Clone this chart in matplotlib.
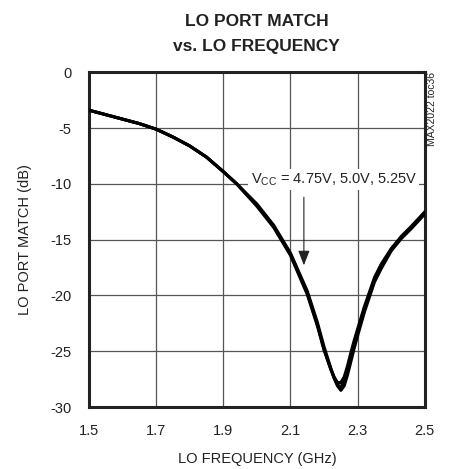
import matplotlib
matplotlib.use("Agg")
import matplotlib.pyplot as plt

plt.rcParams['font.family'] = ['Liberation Sans', 'DejaVu Sans']
plt.rcParams['mathtext.fontset'] = 'custom'
plt.rcParams['mathtext.rm'] = 'Liberation Sans'

# LO frequency (GHz)
freq = [1.50, 1.55, 1.60, 1.65, 1.70, 1.75, 1.80, 1.85, 1.90, 1.94, 2.00, 2.05,
        2.10, 2.15, 2.18, 2.20, 2.22, 2.23, 2.24, 2.25, 2.26, 2.27, 2.28, 2.29,
        2.30, 2.32, 2.35, 2.37, 2.40, 2.43, 2.46, 2.50]

# LO port match (dB) for each supply voltage
match_475 = [-3.4, -3.8, -4.2, -4.6, -5.1, -5.8, -6.6, -7.6, -8.9, -10.0, -11.8, -13.7,
             -16.2, -19.6, -22.4, -24.6, -26.5, -27.4, -28.1, -28.5, -28.1, -27.1, -25.9, -24.7,
             -23.6, -21.5, -18.8, -17.6, -16.0, -14.9, -14.0, -12.7]
match_500 = [-3.4, -3.8, -4.2, -4.6, -5.1, -5.8, -6.6, -7.6, -8.9, -10.0, -11.9, -13.8,
             -16.3, -19.8, -22.6, -24.8, -26.6, -27.4, -28.0, -28.2, -27.7, -26.7, -25.5, -24.3,
             -23.3, -21.2, -18.6, -17.4, -15.9, -14.8, -13.9, -12.6]
match_525 = [-3.4, -3.8, -4.2, -4.6, -5.1, -5.8, -6.6, -7.6, -8.9, -10.0, -12.0, -13.9,
             -16.4, -19.9, -22.7, -24.9, -26.6, -27.3, -27.8, -27.8, -27.3, -26.3, -25.1, -24.0,
             -23.0, -21.0, -18.4, -17.2, -15.8, -14.7, -13.8, -12.5]

xticks = [1.5, 1.7, 1.9, 2.1, 2.3, 2.5]
yticks = [0, -5, -10, -15, -20, -25, -30]

fig = plt.figure(figsize=(4.51, 4.69), dpi=100)
ax = fig.add_axes([0.197, 0.132, 0.745, 0.714])

for series in (match_475, match_500, match_525):
    ax.plot(freq, series, color='black', lw=2.2, solid_joinstyle='round',
            solid_capstyle='round', zorder=3)

ax.set_xlim(1.5, 2.5)
ax.set_ylim(-30, 0)
ax.set_xticks(xticks)
ax.set_xticklabels([f'{t:.1f}' for t in xticks])
ax.set_yticks(yticks)
ax.set_yticklabels([str(t) for t in yticks])
ax.tick_params(length=0, labelsize=10.5, colors='#222222')
ax.tick_params(axis='x', pad=12.5)
ax.tick_params(axis='y', pad=12.5)
ax.grid(True, color='#555555', lw=0.9)
for s in ax.spines.values():
    s.set_linewidth(2.2)
    s.set_color('#222222')

ax.set_xlabel('LO FREQUENCY (GHz)', fontsize=10.5, labelpad=10, color='#222222')
ax.set_ylabel('LO PORT MATCH (dB)', fontsize=10.5, labelpad=13, color='#222222')
ax.set_title('LO PORT MATCH\nvs. LO FREQUENCY', fontsize=12.5, fontweight='bold',
             linespacing=1.85, pad=15, color='#222222')

ax.text(2.229, -9.6, r'V$_{\mathrm{CC}}$ = 4.75V, 5.0V, 5.25V', fontsize=10.5,
        ha='center', va='center', color='#222222', zorder=4,
        bbox=dict(facecolor='white', edgecolor='none', pad=1.5))
ax.annotate('', xy=(2.140, -17.3), xytext=(2.140, -11.2),
            arrowprops=dict(arrowstyle='-|>,head_length=0.9,head_width=0.35',
                            lw=0.8, color='#222222', shrinkA=0, shrinkB=0), zorder=4)

fig.text(0.958, 0.846, 'MAX2022 toc36', rotation=90, fontsize=7.5, ha='center', va='top',
         color='#222222')

fig.savefig('out.png', dpi=100)
